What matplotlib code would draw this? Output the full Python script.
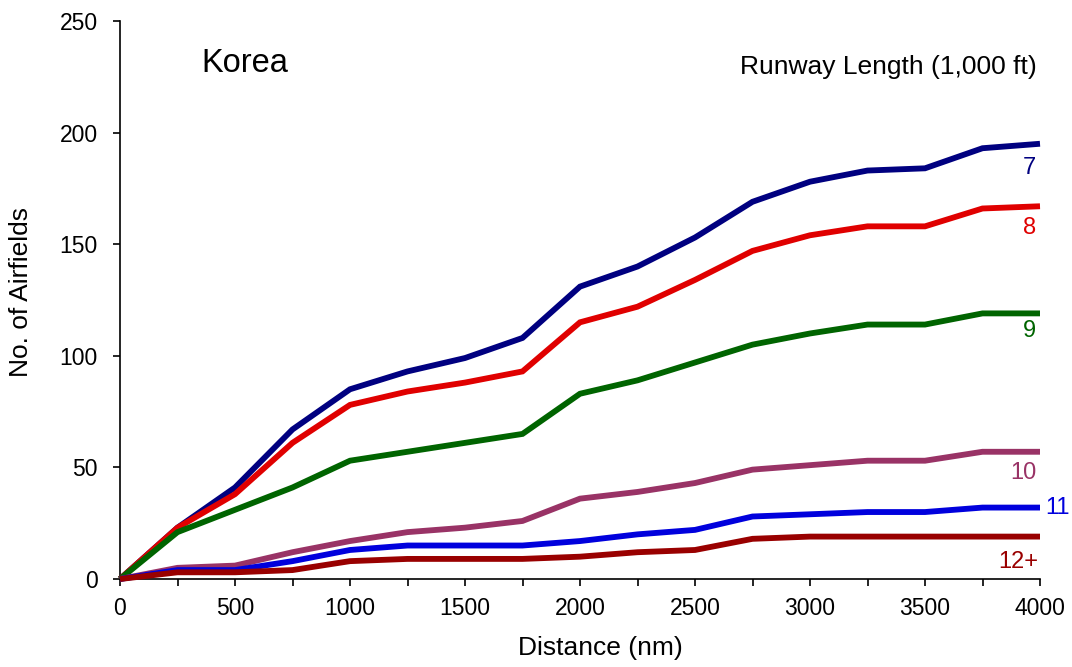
import matplotlib
matplotlib.use("Agg")
import matplotlib.pyplot as plt

plt.rcParams["font.family"] = ["Liberation Sans", "DejaVu Sans"]

distance = [0, 250, 500, 750, 1000, 1250, 1500, 1750, 2000,
            2250, 2500, 2750, 3000, 3250, 3500, 3750, 4000]

rw_7 = [0, 23, 41, 67, 85, 93, 99, 108, 131, 140, 153, 169, 178, 183, 184, 193, 195]
rw_8 = [0, 23, 38, 61, 78, 84, 88, 93, 115, 122, 134, 147, 154, 158, 158, 166, 167]
rw_9 = [0, 21, 31, 41, 53, 57, 61, 65, 83, 89, 97, 105, 110, 114, 114, 119, 119]
rw_10 = [0, 5, 6, 12, 17, 21, 23, 26, 36, 39, 43, 49, 51, 53, 53, 57, 57]
rw_11 = [0, 4, 4, 8, 13, 15, 15, 15, 17, 20, 22, 28, 29, 30, 30, 32, 32]
rw_12 = [0, 3, 3, 4, 8, 9, 9, 9, 10, 12, 13, 18, 19, 19, 19, 19, 19]

series = [
    ("7", rw_7, "#000080"),
    ("8", rw_8, "#E00000"),
    ("9", rw_9, "#006400"),
    ("10", rw_10, "#993366"),
    ("11", rw_11, "#0000DD"),
    ("12+", rw_12, "#990000"),
]

# label offsets from the last point, in pixels
label_offsets = {
    "7": (-4, -24, "right"),
    "8": (-4, -22, "right"),
    "9": (-4, -18, "right"),
    "10": (-4, -21, "right"),
    "11": (5, 0, "left"),
    "12+": (-2, -25, "right"),
}

fig = plt.figure(figsize=(10.72, 6.67), dpi=100)
ax = fig.add_axes([120 / 1072, 88 / 667, 920 / 1072, 558 / 667])

for name, values, color in series:
    ax.plot(distance, values, color=color, linewidth=4.2,
            solid_joinstyle="miter", solid_capstyle="butt",
            clip_on=False, zorder=3)
    dx, dy, ha = label_offsets[name]
    ax.annotate(name, (distance[-1], values[-1]), xytext=(dx, dy),
                textcoords="offset pixels", ha=ha, va="center",
                color=color, fontsize=17)

ax.set_xlim(0, 4000)
ax.set_ylim(0, 250)
ax.set_xticks(range(0, 4001, 500))
ax.set_xticks(range(0, 4001, 250), minor=True)
ax.set_yticks(range(0, 251, 50))

ax.spines["top"].set_visible(False)
ax.spines["right"].set_visible(False)
for side in ("left", "bottom"):
    ax.spines[side].set_linewidth(1.2)

ax.tick_params(axis="both", which="major", direction="out", length=5,
               width=1.2, labelsize=16.5)
ax.tick_params(axis="y", pad=11)
ax.tick_params(axis="x", pad=8)
ax.tick_params(axis="x", which="minor", direction="out", length=5, width=1.2)

ax.set_xlabel("Distance (nm)", fontsize=19)
ax.set_ylabel("No. of Airfields", fontsize=19)
ax.xaxis.set_label_coords(0.522, -0.102)
ax.yaxis.set_label_coords(-0.095, 0.514)

fig.text(245 / 1072, 1 - 64 / 667, "Korea", fontsize=23.5,
         ha="center", va="center")
fig.text(1037 / 1072, 1 - 67 / 667, "Runway Length (1,000 ft)",
         fontsize=19, ha="right", va="center")

fig.savefig("out.png", dpi=100)
